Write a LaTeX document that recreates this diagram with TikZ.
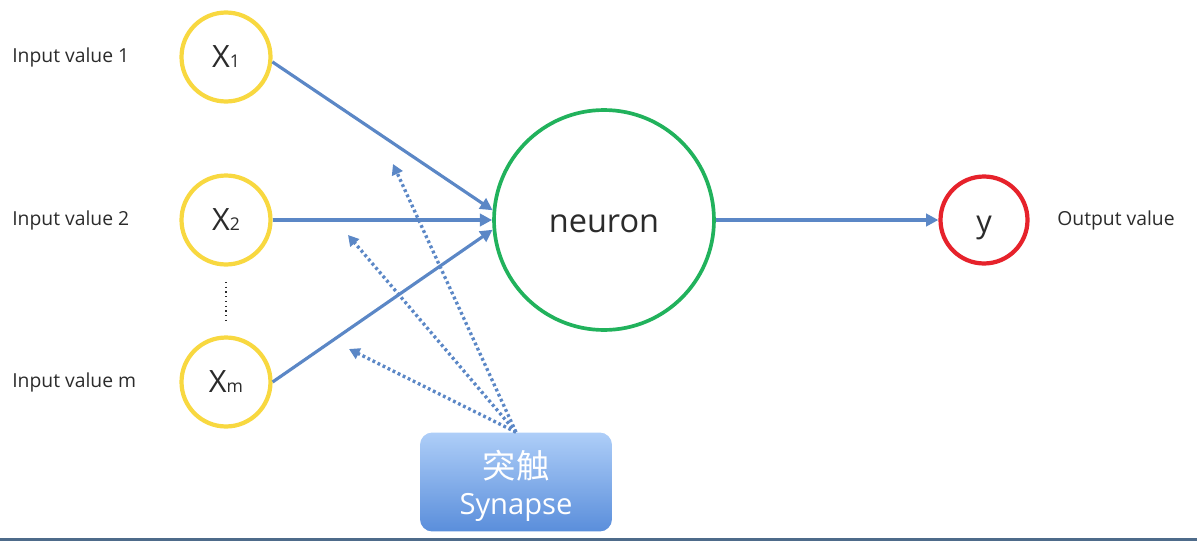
\documentclass[tikz,border=0pt]{standalone}
\usepackage{fontspec}
\setmainfont{Open Sans}
\newfontfamily\cjkfont{Noto Sans CJK SC}
\usetikzlibrary{arrows.meta,positioning}
\definecolor{ink}{HTML}{2B2B2B}
\definecolor{gold}{HTML}{F8D840}
\definecolor{leaf}{HTML}{21B25C}
\definecolor{alarm}{HTML}{E6222B}
\definecolor{wire}{HTML}{5B87C6}
\definecolor{skyTop}{HTML}{AECEF8}
\definecolor{skyBot}{HTML}{5A8EDB}
\definecolor{rule}{HTML}{4E6B8A}
\tikzset{
  unit/.style={circle,fill=white,text=ink,inner sep=0pt},
  inunit/.style={unit,draw=gold,line width=2.4pt,minimum size=1.78cm,font=\fontsize{17.5}{20}\selectfont},
  lab/.style={font=\fontsize{11}{13}\selectfont,text=ink,anchor=west,inner sep=0pt},
  wirearrow/.style={-{Triangle[length=7pt,width=7pt]},line width=1.8pt,draw=wire},
  synarrow/.style={-{Triangle[length=6pt,width=6.5pt]},line width=1.9pt,draw=wire,
    dash pattern=on 1.6pt off 1.6pt}
}
\newcommand{\sub}[1]{{\fontsize{10}{12}\selectfont #1}}
\newcommand{\low}[2]{\raisebox{#1}[0pt][0pt]{#2}}

\begin{document}
\begin{tikzpicture}[
    x=0.02cm,y=-0.02cm,
    cell/.style={unit,draw=leaf,line width=2.1pt,minimum size=4.4cm,font=\fontsize{18.5}{22}\selectfont},
    outunit/.style={unit,draw=alarm,line width=2.4pt,minimum size=1.74cm,font=\fontsize{17.5}{20}\selectfont},
    synbox/.style={rounded corners=7pt,top color=skyTop,bottom color=skyBot,draw=none,
      minimum width=3.84cm,minimum height=1.98cm,text=white,align=center,
      font=\fontsize{16.6}{20.5}\selectfont}
  ]
    \useasboundingbox (0,0) rectangle (1197,541);

    \node[inunit] (x1) at (226,57) {X\sub{1}};
    \node[inunit] (x2) at (226,220) {X\sub{2}};
    \node[inunit] (xm) at (226,382) {X\sub{m}};
    \node[lab] (in1) at (12,57) {Input value 1};
    \node[lab] (in2) at (12,220) {Input value 2};
    \node[lab] (inm) at (12,382) {Input value m};
    \draw[dotted,line width=0.7pt,draw=ink] (226,282) -- (226,322);

    \node[cell] (neuron) at (604,220) {\low{-7pt}{neuron}};
    \node[outunit] (yout) at (984,220) {\low{-7pt}{y}};
    \node[lab] (outlab) at (1057,220) {Output value};

    \draw[wirearrow] (x1.-6) -- (neuron.175);
    \draw[wirearrow] (x2.east) -- (neuron.west);
    \draw[wirearrow] (xm.east) -- (neuron.185);
    \draw[wirearrow] (neuron.east) -- (yout.west);

    \node[synbox] (syn) at (516,482)
      {\low{-8.4pt}{\fontsize{19}{20}\cjkfont 突触}\\\low{-8.4pt}{Synapse}};
    \coordinate (w1) at (393,164);
    \coordinate (w2) at (348,235);
    \coordinate (wm) at (349,349);
    \draw[synarrow] (syn.north) -- (w1);
    \draw[synarrow] (syn.north) -- (w2);
    \draw[synarrow] (syn.north) -- (wm);

    \draw[rule,line width=1.4pt] (0,539.5) -- (1197,539.5);
  \end{tikzpicture}
\end{document}
